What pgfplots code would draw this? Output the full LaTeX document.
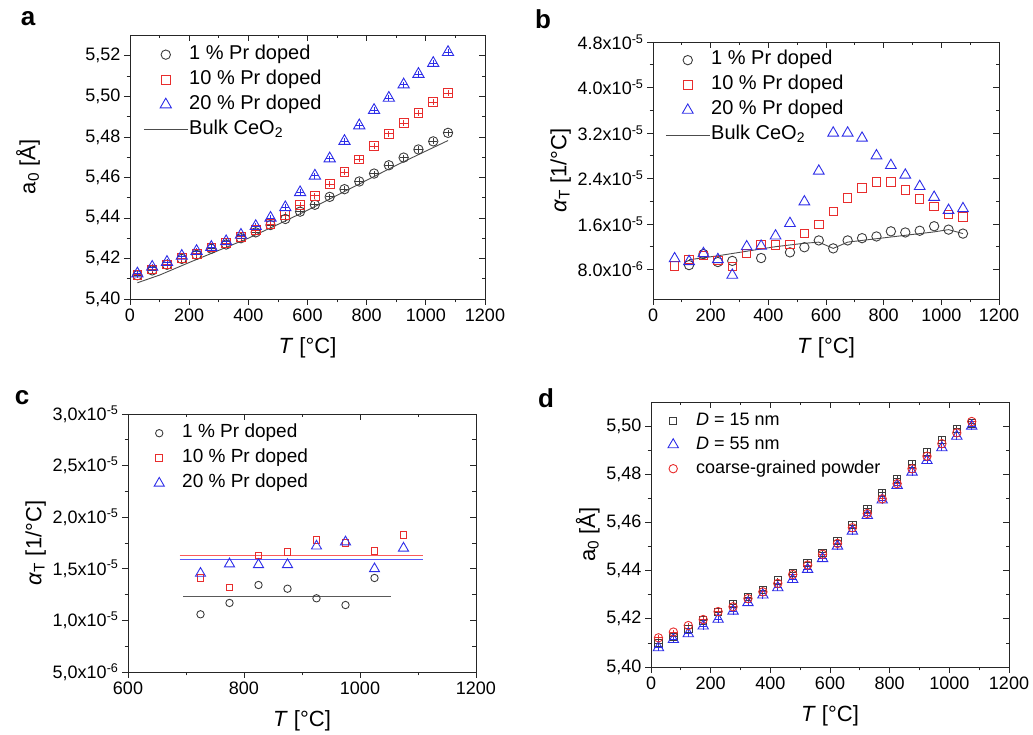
\documentclass[border=0pt]{standalone}
\usepackage{fontspec}
\setmainfont{Liberation Sans}
\usepackage{pgfplots}
\usepackage{pgfplotstable}
\pgfplotsset{compat=1.18}

\definecolor{pblack}{RGB}{60,60,60}
\definecolor{pred}{RGB}{232,45,45}
\definecolor{pblue}{RGB}{45,45,232}
\definecolor{lred}{RGB}{250,90,90}
\definecolor{lblue}{RGB}{90,90,250}

\pgfplotsset{
  panel/.style={scale only axis,
    axis line style={line width=0.9pt, black!85},
    tick style={line width=0.8pt, black!85},
    major tick length=6pt, minor tick length=3.5pt,
    minor x tick num=1, minor y tick num=1,
    tick label style={font=\fontsize{18}{21}\selectfont},
    label style={font=\fontsize{22}{25}\selectfont},
    every axis x label/.append style={yshift=-9pt},
    /pgf/number format/assume math mode=true,
    /pgf/number format/1000 sep={}},
  front/.style={panel, tick align=outside, xtick pos=left, ytick pos=left,
    legend style={draw=none, fill=none, inner sep=0pt, anchor=north west,
      font=\fontsize{20}{22}\selectfont,
      nodes={inner sep=1pt, text height=14pt, text depth=5pt}, row sep=4pt},
    legend cell align=left},
  back/.style={panel, tick align=inside, xtick pos=right, ytick pos=right,
    xticklabels={}, yticklabels={}},
  lg/.style={legend image code/.code={%
    \path[draw=none, fill=none] (0pt,-1pt) rectangle (44pt,1pt);
    \draw[mark repeat=2,mark phase=2,##1] plot coordinates {(0pt,0pt) (22pt,0pt) (44pt,0pt)};}},
  commay/.style={yticklabel style={/pgf/number format/.cd, use comma, fixed, fixed zerofill, precision=2}},
  errs/.style={error bars/.cd, y dir=both, y fixed=#1, x dir=both, x fixed=14,
    error mark=none, error bar style={line width=0.8pt}},
}

% panel a: lattice parameter
\pgfplotstableread{
T c1 c10 c20
25 5.4117 5.4120 5.4125
75 5.4141 5.4146 5.4158
125 5.4169 5.4170 5.4182
175 5.4198 5.4202 5.4212
225 5.4218 5.4223 5.4236
275 5.4248 5.4254 5.4256
325 5.4269 5.4275 5.4284
375 5.4300 5.4308 5.4316
425 5.4329 5.4339 5.4359
475 5.4365 5.4370 5.4400
525 5.4395 5.4414 5.4452
575 5.4431 5.4463 5.4526
625 5.4465 5.4509 5.4608
675 5.4504 5.4568 5.4693
725 5.4542 5.4627 5.4779
775 5.4580 5.4689 5.4856
825 5.4619 5.4755 5.4932
875 5.4660 5.4815 5.4992
925 5.4698 5.4869 5.5058
975 5.4738 5.4918 5.5110
1025 5.4778 5.4971 5.5164
1075 5.4820 5.5017 5.5218
}\dataA
\pgfplotstableread{
T a
25 5.4080
100 5.4118
200 5.4180
300 5.4240
400 5.4300
500 5.4368
600 5.4438
700 5.4512
800 5.4586
900 5.4660
1000 5.4730
1075 5.4782
}\bulkA

% panel b: expansion coefficient
\pgfplotstableread{
T c1 c10 c20
75 nan 8.6e-6 9.9e-6
125 8.76e-6 9.75e-6 9.4e-6
175 1.07e-5 1.05e-5 1.08e-5
225 9.3e-6 9.6e-6 9.75e-6
275 9.5e-6 8.5e-6 7.0e-6
325 nan 1.08e-5 1.2e-5
375 1.0e-5 1.24e-5 1.21e-5
425 nan 1.23e-5 1.39e-5
475 1.1e-5 1.24e-5 1.61e-5
525 1.19e-5 1.43e-5 1.99e-5
575 1.31e-5 1.59e-5 2.53e-5
625 1.17e-5 1.82e-5 3.2e-5
675 1.31e-5 2.06e-5 3.2e-5
725 1.35e-5 2.23e-5 3.11e-5
775 1.38e-5 2.34e-5 2.80e-5
825 1.47e-5 2.34e-5 2.63e-5
875 1.45e-5 2.20e-5 2.46e-5
925 1.48e-5 2.04e-5 2.26e-5
975 1.56e-5 1.91e-5 2.07e-5
1025 1.50e-5 1.77e-5 1.84e-5
1075 1.43e-5 1.72e-5 1.87e-5
}\dataB
\pgfplotstableread{
T a
125 9.7e-6
225 1.04e-5
325 1.12e-5
425 1.2e-5
525 1.26e-5
575 1.28e-5
625 1.17e-5
675 1.28e-5
775 1.34e-5
875 1.40e-5
975 1.46e-5
1025 1.50e-5
1075 1.43e-5
}\bulkB

% panel c: high temperature coefficients
\pgfplotstableread{
T c1 c10 c20
725 1.059e-5 1.408e-5 1.456e-5
775 1.169e-5 1.32e-5 1.547e-5
825 1.343e-5 1.63e-5 1.54e-5
875 1.307e-5 1.66e-5 1.54e-5
925 1.214e-5 1.78e-5 1.72e-5
975 1.149e-5 1.75e-5 1.76e-5
1025 1.411e-5 1.67e-5 1.50e-5
1075 nan 1.83e-5 1.70e-5
}\dataC
% mean lines of panel c
\pgfplotstableread{
T r b k
689 1.627e-5 1.592e-5 nan
695 nan nan 1.23e-5
1053 nan nan 1.23e-5
1108 1.627e-5 1.592e-5 nan
}\meanC

% panel d: grain size
\pgfplotstableread{
T d15 d55 cg
25 5.4100 5.4080 5.4121
75 5.4125 5.4114 5.4145
125 5.4159 5.4138 5.4172
175 5.4194 5.4170 5.4197
225 5.4228 5.4198 5.4230
275 5.4261 5.4232 5.4250
325 5.4290 5.4267 5.4284
375 5.4319 5.4299 5.4312
425 5.4359 5.4329 5.4347
475 5.4391 5.4363 5.4384
525 5.4433 5.4405 5.4423
575 5.4474 5.4450 5.4468
625 5.4524 5.4502 5.4513
675 5.4589 5.4564 5.4578
725 5.4657 5.4629 5.4637
775 5.4723 5.4693 5.4698
825 5.4781 5.4754 5.4761
875 5.4842 5.4809 5.4823
925 5.4892 5.4857 5.4875
975 5.4942 5.4910 5.4927
1025 5.4989 5.4958 5.4972
1075 5.5011 5.5000 5.5019
}\dataD

\begin{document}
\begin{tikzpicture}[x=1pt,y=1pt]
\useasboundingbox (0,0) rectangle (1033,735);

\node[font=\bfseries\fontsize{26}{28}\selectfont] at (28,716) {a};
\node[font=\bfseries\fontsize{26}{28}\selectfont] at (543,716) {b};
\node[font=\bfseries\fontsize{26}{28}\selectfont] at (22,337) {c};
\node[font=\bfseries\fontsize{26}{28}\selectfont] at (546,337) {d};
\node[rotate=90, font=\fontsize{22}{25}\selectfont] at (28,568) {a\textsubscript{0} [Å]};

% ---- a ----
\begin{axis}[back, at={(130pt,436pt)}, width=355pt, height=264pt,
  xmin=0, xmax=1200, ymin=5.40, ymax=5.5303,
  xtick={0,200,400,600,800,1000,1200}, ytick={5.40,5.42,5.44,5.46,5.48,5.50,5.52}]
\end{axis}
\begin{axis}[front, commay, at={(130pt,436pt)}, width=355pt, height=264pt,
  xmin=0, xmax=1200, ymin=5.40, ymax=5.5303,
  xtick={0,200,400,600,800,1000,1200}, ytick={5.40,5.42,5.44,5.46,5.48,5.50,5.52},
  xlabel={\textit{T} [°C]},
  legend style={at={(0.037,0.966)}}]
\addplot[only marks, lg, mark=o, mark size=4.7pt, pblack, mark options={line width=0.9pt},
  errs=0.0015] table[x=T,y=c1] {\dataA};
\addlegendentry{1 \% Pr doped}
\addplot[only marks, lg, mark=square, mark size=4.4pt, pred, mark options={line width=0.9pt},
  errs=0.0015] table[x=T,y=c10] {\dataA};
\addlegendentry{10 \% Pr doped}
\addplot[only marks, lg, mark=triangle, mark size=6.5pt, pblue, mark options={line width=0.9pt},
  errs=0.0015] table[x=T,y=c20] {\dataA};
\addlegendentry{20 \% Pr doped}
\addplot[no marks, lg, black!70, line width=0.9pt] table[x=T,y=a] {\bulkA};
\addlegendentry{Bulk CeO\textsubscript{2}}
\end{axis}

% ---- b ----
\begin{axis}[back, at={(653pt,436pt)}, width=346pt, height=257pt,
  xmin=0, xmax=1200, ymin=2.8e-6, ymax=4.8e-5, scaled y ticks=false,
  xtick={0,200,400,600,800,1000,1200}, ytick={8e-6,1.6e-5,2.4e-5,3.2e-5,4.0e-5,4.8e-5}]
\end{axis}
\begin{axis}[front, at={(653pt,436pt)}, width=346pt, height=257pt,
  xmin=0, xmax=1200, ymin=2.8e-6, ymax=4.8e-5, scaled y ticks=false,
  xtick={0,200,400,600,800,1000,1200}, ytick={8e-6,1.6e-5,2.4e-5,3.2e-5,4.0e-5,4.8e-5},
  yticklabels={8.0x10\textsuperscript{-6}, 1.6x10\textsuperscript{-5}, 2.4x10\textsuperscript{-5},
    3.2x10\textsuperscript{-5}, 4.0x10\textsuperscript{-5}, 4.8x10\textsuperscript{-5}},
  xlabel={\textit{T} [°C]}, ylabel={\textit{α}\textsubscript{T} [1/°C]},
  legend style={at={(0.035,0.971)}}]
\addplot[only marks, lg, mark=o, mark size=4.7pt, pblack, mark options={line width=0.9pt}]
  table[x=T,y=c1] {\dataB};
\addlegendentry{1 \% Pr doped}
\addplot[only marks, lg, mark=square, mark size=4.2pt, pred, mark options={line width=0.9pt}]
  table[x=T,y=c10] {\dataB};
\addlegendentry{10 \% Pr doped}
\addplot[only marks, lg, mark=triangle, mark size=6.2pt, pblue, mark options={line width=0.9pt}]
  table[x=T,y=c20] {\dataB};
\addlegendentry{20 \% Pr doped}
\addplot[no marks, lg, black!70, line width=0.9pt] table[x=T,y=a] {\bulkB};
\addlegendentry{Bulk CeO\textsubscript{2}}
\end{axis}

% ---- c ----
\begin{axis}[back, at={(128pt,63pt)}, width=348pt, height=258pt,
  xmin=600, xmax=1200, ymin=5e-6, ymax=3e-5, scaled y ticks=false,
  xtick={600,800,1000,1200}, ytick={5e-6,1e-5,1.5e-5,2e-5,2.5e-5,3e-5}]
\end{axis}
\begin{axis}[front, at={(128pt,63pt)}, width=348pt, height=258pt,
  xmin=600, xmax=1200, ymin=5e-6, ymax=3e-5, scaled y ticks=false,
  xtick={600,800,1000,1200}, ytick={5e-6,1e-5,1.5e-5,2e-5,2.5e-5,3e-5},
  yticklabels={{5,0x10\textsuperscript{-6}}, {1,0x10\textsuperscript{-5}}, {1,5x10\textsuperscript{-5}},
    {2,0x10\textsuperscript{-5}}, {2,5x10\textsuperscript{-5}}, {3,0x10\textsuperscript{-5}}},
  xlabel={\textit{T} [°C]}, ylabel={\textit{α}\textsubscript{T} [1/°C]},
  legend style={at={(0.026,0.967)}, font=\fontsize{19}{21}\selectfont}]
\addplot[lred, line width=1.5pt, forget plot] table[x=T,y=r] {\meanC};
\addplot[lblue, line width=1.5pt, forget plot] table[x=T,y=b] {\meanC};
\addplot[black!65, line width=1.4pt, forget plot] table[x=T,y=k] {\meanC};
\addplot[only marks, lg, mark=o, mark size=3.7pt, pblack, mark options={line width=0.9pt}]
  table[x=T,y=c1] {\dataC};
\addlegendentry{1 \% Pr doped}
\addplot[only marks, lg, mark=square, mark size=3.4pt, pred, mark options={line width=0.9pt}]
  table[x=T,y=c10] {\dataC};
\addlegendentry{10 \% Pr doped}
\addplot[only marks, lg, mark=triangle, mark size=5.8pt, pblue, mark options={line width=0.9pt}]
  table[x=T,y=c20] {\dataC};
\addlegendentry{20 \% Pr doped}
\end{axis}

% ---- d ----
\begin{axis}[back, at={(651pt,68pt)}, width=358pt, height=265pt,
  xmin=0, xmax=1200, ymin=5.40, ymax=5.51,
  xtick={0,200,400,600,800,1000,1200}, ytick={5.40,5.42,5.44,5.46,5.48,5.50}]
\end{axis}
\begin{axis}[front, commay, at={(651pt,68pt)}, width=358pt, height=265pt,
  xmin=0, xmax=1200, ymin=5.40, ymax=5.51,
  xtick={0,200,400,600,800,1000,1200}, ytick={5.40,5.42,5.44,5.46,5.48,5.50},
  xlabel={\textit{T} [°C]}, ylabel={a\textsubscript{0} [Å]},
  legend style={at={(0.0,0.966)}, font=\fontsize{18}{20}\selectfont,
    nodes={inner sep=1pt, text height=13pt, text depth=4pt}, row sep=5pt}]
\addplot[only marks, lg, mark=square, mark size=3.7pt, pblack, mark options={line width=0.9pt},
  errs=0.0012] table[x=T,y=d15] {\dataD};
\addlegendentry{\textit{D} = 15 nm}
\addplot[only marks, lg, mark=triangle, mark size=6pt, pblue, mark options={line width=0.9pt},
  errs=0.0015] table[x=T,y=d55] {\dataD};
\addlegendentry{\textit{D} = 55 nm}
\addplot[only marks, lg, mark=o, mark size=4.2pt, pred, mark options={line width=0.9pt},
  errs=0.0010] table[x=T,y=cg] {\dataD};
\addlegendentry{coarse-grained powder}
\end{axis}
\end{tikzpicture}
\end{document}
